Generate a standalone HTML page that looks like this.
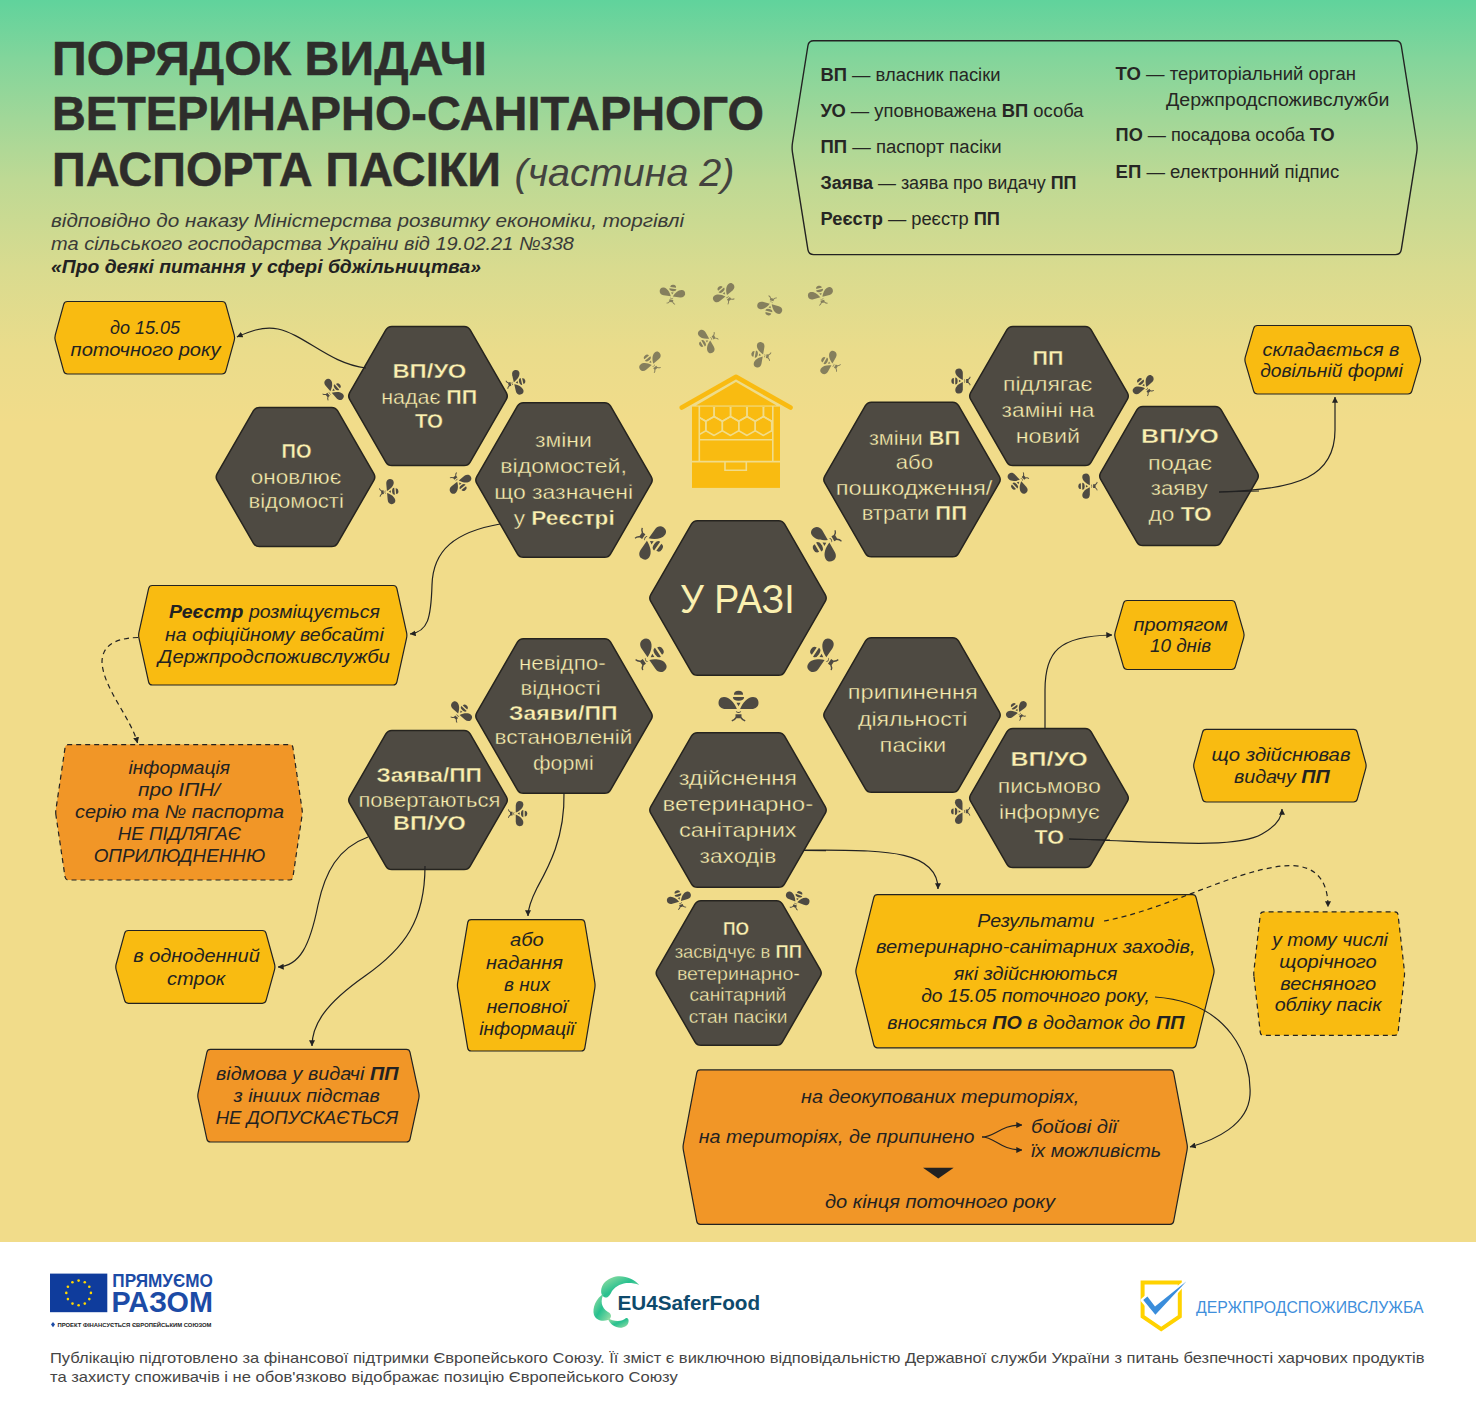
<!DOCTYPE html><html><head><meta charset="utf-8"><style>html,body{margin:0;padding:0;background:#fff;}svg{display:block;}</style></head><body>
<svg width="1476" height="1413" viewBox="0 0 1476 1413">
<defs>
<linearGradient id="bg" x1="0" y1="0" x2="0" y2="1242" gradientUnits="userSpaceOnUse">
<stop offset="0" stop-color="#60d39c"/>
<stop offset="0.048" stop-color="#83d59b"/>
<stop offset="0.097" stop-color="#a2d798"/>
<stop offset="0.145" stop-color="#bed994"/>
<stop offset="0.217" stop-color="#d9db8f"/>
<stop offset="0.282" stop-color="#eadc8b"/>
<stop offset="0.34" stop-color="#f1dc8a"/>
<stop offset="1" stop-color="#f1dc8a"/>
</linearGradient>
<marker id="ar" viewBox="0 0 10 10" refX="9.5" refY="5" markerWidth="6" markerHeight="6" orient="auto-start-reverse" markerUnits="userSpaceOnUse">
<path d="M0,0 L10,5 L0,10 Z" fill="#222"/>
</marker>
<g id="bee">
<path d="M-4.6,-10.2 Q-4.6,-14.2 0,-14.2 Q4.6,-14.2 4.6,-10.2 Z"/>
<path d="M-5.6,-8 L5.6,-8 Q5.6,-4.2 0,-4.2 Q-5.6,-4.2 -5.6,-8 Z"/>
<path d="M-2,-2.2 L2,-2.2 L0,1.2 Z"/>
<path d="M-1.6,4 C-4,-2 -9,-8 -14.5,-8 C-18.5,-8 -20,-5 -20,-2 C-20,1.5 -17,4 -13,4 Z"/>
<path d="M1.6,4 C4,-2 9,-8 14.5,-8 C18.5,-8 20,-5 20,-2 C20,1.5 17,4 13,4 Z"/>
<path d="M-2.6,6 Q0,8 2.6,6 L2.2,7.2 Q0,8.6 -2.2,7.2 Z"/>
<path d="M-3,9.2 L3,9.2 L3,12 Q4.5,14.6 7,15.2 L6.4,16.4 Q3.4,15.8 2,13.2 L-2,13.2 Q-3.4,15.8 -6.4,16.4 L-7,15.2 Q-4.5,14.6 -3,12 Z"/>
</g>
</defs>
<rect x="0" y="0" width="1476" height="1242" fill="url(#bg)"/>
<rect x="0" y="1242" width="1476" height="171" fill="#ffffff"/>
<text x="52.0" y="74.5" font-family="Liberation Sans" font-size="47.5" fill="#2e2d2b" text-anchor="start" font-style="normal" font-weight="bold" textLength="435.0" lengthAdjust="spacingAndGlyphs" stroke="#2e2d2b" stroke-width="0.5">ПОРЯДОК ВИДАЧІ</text>
<text x="52.0" y="130.0" font-family="Liberation Sans" font-size="47.5" fill="#2e2d2b" text-anchor="start" font-style="normal" font-weight="bold" textLength="712.0" lengthAdjust="spacingAndGlyphs" stroke="#2e2d2b" stroke-width="0.5">ВЕТЕРИНАРНО-САНІТАРНОГО</text>
<text x="52.0" y="186.0" font-family="Liberation Sans" font-size="47.5" fill="#2e2d2b" text-anchor="start" font-style="normal" font-weight="bold" textLength="449.0" lengthAdjust="spacingAndGlyphs" stroke="#2e2d2b" stroke-width="0.5">ПАСПОРТА ПАСІКИ</text>
<text x="514.5" y="186.0" font-family="Liberation Sans" font-size="39.0" fill="#43433f" text-anchor="start" font-style="italic" font-weight="normal" textLength="220.0" lengthAdjust="spacingAndGlyphs">(частина 2)</text>
<text x="51.0" y="226.5" font-family="Liberation Sans" font-size="19.0" fill="#3a3a38" text-anchor="start" font-style="italic" font-weight="normal" textLength="633.0" lengthAdjust="spacingAndGlyphs">відповідно до наказу Міністерства розвитку економіки, торгівлі</text>
<text x="51.0" y="249.5" font-family="Liberation Sans" font-size="19.0" fill="#3a3a38" text-anchor="start" font-style="italic" font-weight="normal" textLength="523.0" lengthAdjust="spacingAndGlyphs">та сільського господарства України від 19.02.21 №338</text>
<text x="51.0" y="272.5" font-family="Liberation Sans" font-size="19.0" fill="#222" text-anchor="start" font-style="italic" font-weight="bold" textLength="430.0" lengthAdjust="spacingAndGlyphs">«Про деякі питання у сфері бджільництва»</text>
<path d="M792.49,152.64 Q791.70,147.70 792.49,142.76 L807.91,45.74 Q808.70,40.80 813.70,40.80 L1395.50,40.80 Q1400.50,40.80 1401.29,45.74 L1416.71,142.76 Q1417.50,147.70 1416.71,152.64 L1401.29,249.66 Q1400.50,254.60 1395.50,254.60 L813.70,254.60 Q808.70,254.60 807.91,249.66 Z" fill="none" stroke="#222222" stroke-width="1.4"/>
<text x="820.5" y="81.0" font-family="Liberation Sans" font-size="18.0" fill="#262624" text-anchor="start" font-style="normal" font-weight="normal" textLength="180.0" lengthAdjust="spacingAndGlyphs"><tspan font-weight="bold">ВП</tspan> — власник пасіки</text>
<text x="820.5" y="116.7" font-family="Liberation Sans" font-size="18.0" fill="#262624" text-anchor="start" font-style="normal" font-weight="normal" textLength="263.0" lengthAdjust="spacingAndGlyphs"><tspan font-weight="bold">УО</tspan> — уповноважена <tspan font-weight="bold">ВП</tspan> особа</text>
<text x="820.5" y="153.0" font-family="Liberation Sans" font-size="18.0" fill="#262624" text-anchor="start" font-style="normal" font-weight="normal" textLength="181.0" lengthAdjust="spacingAndGlyphs"><tspan font-weight="bold">ПП</tspan> — паспорт пасіки</text>
<text x="820.5" y="189.4" font-family="Liberation Sans" font-size="18.0" fill="#262624" text-anchor="start" font-style="normal" font-weight="normal" textLength="256.0" lengthAdjust="spacingAndGlyphs"><tspan font-weight="bold">Заява</tspan> — заява про видачу <tspan font-weight="bold">ПП</tspan></text>
<text x="820.5" y="225.1" font-family="Liberation Sans" font-size="18.0" fill="#262624" text-anchor="start" font-style="normal" font-weight="normal" textLength="179.5" lengthAdjust="spacingAndGlyphs"><tspan font-weight="bold">Реєстр</tspan> — реєстр <tspan font-weight="bold">ПП</tspan></text>
<text x="1115.6" y="80.3" font-family="Liberation Sans" font-size="18.0" fill="#262624" text-anchor="start" font-style="normal" font-weight="normal" textLength="240.4" lengthAdjust="spacingAndGlyphs"><tspan font-weight="bold">ТО</tspan> — територіальний орган</text>
<text x="1166.0" y="106.0" font-family="Liberation Sans" font-size="18.0" fill="#262624" text-anchor="start" font-style="normal" font-weight="normal" textLength="223.5" lengthAdjust="spacingAndGlyphs">Держпродспоживслужби</text>
<text x="1115.6" y="141.3" font-family="Liberation Sans" font-size="18.0" fill="#262624" text-anchor="start" font-style="normal" font-weight="normal" textLength="219.0" lengthAdjust="spacingAndGlyphs"><tspan font-weight="bold">ПО</tspan> — посадова особа <tspan font-weight="bold">ТО</tspan></text>
<text x="1115.6" y="177.5" font-family="Liberation Sans" font-size="18.0" fill="#262624" text-anchor="start" font-style="normal" font-weight="normal" textLength="223.6" lengthAdjust="spacingAndGlyphs"><tspan font-weight="bold">ЕП</tspan> — електронний підпис</text>
<path d="M349.70,399.46 Q347.70,396.00 349.70,392.54 L385.85,329.92 Q387.85,326.46 391.85,326.46 L464.15,326.46 Q468.15,326.46 470.15,329.92 L506.30,392.54 Q508.30,396.00 506.30,399.46 L470.15,462.08 Q468.15,465.54 464.15,465.54 L391.85,465.54 Q387.85,465.54 385.85,462.08 Z" fill="#4e4a42" stroke="#26241f" stroke-width="1.5"/>
<path d="M217.20,480.46 Q215.20,477.00 217.20,473.54 L253.35,410.92 Q255.35,407.46 259.35,407.46 L331.65,407.46 Q335.65,407.46 337.65,410.92 L373.80,473.54 Q375.80,477.00 373.80,480.46 L337.65,543.08 Q335.65,546.54 331.65,546.54 L259.35,546.54 Q255.35,546.54 253.35,543.08 Z" fill="#4e4a42" stroke="#26241f" stroke-width="1.5"/>
<path d="M476.80,483.46 Q474.80,480.00 476.80,476.54 L517.40,406.21 Q519.40,402.75 523.40,402.75 L604.60,402.75 Q608.60,402.75 610.60,406.21 L651.20,476.54 Q653.20,480.00 651.20,483.46 L610.60,553.79 Q608.60,557.25 604.60,557.25 L523.40,557.25 Q519.40,557.25 517.40,553.79 Z" fill="#4e4a42" stroke="#26241f" stroke-width="1.5"/>
<path d="M970.70,399.46 Q968.70,396.00 970.70,392.54 L1006.85,329.92 Q1008.85,326.46 1012.85,326.46 L1085.15,326.46 Q1089.15,326.46 1091.15,329.92 L1127.30,392.54 Q1129.30,396.00 1127.30,399.46 L1091.15,462.08 Q1089.15,465.54 1085.15,465.54 L1012.85,465.54 Q1008.85,465.54 1006.85,462.08 Z" fill="#4e4a42" stroke="#26241f" stroke-width="1.5"/>
<path d="M824.80,482.96 Q822.80,479.50 824.80,476.04 L865.40,405.71 Q867.40,402.25 871.40,402.25 L952.60,402.25 Q956.60,402.25 958.60,405.71 L999.20,476.04 Q1001.20,479.50 999.20,482.96 L958.60,553.29 Q956.60,556.75 952.60,556.75 L871.40,556.75 Q867.40,556.75 865.40,553.29 Z" fill="#4e4a42" stroke="#26241f" stroke-width="1.5"/>
<path d="M1100.70,479.46 Q1098.70,476.00 1100.70,472.54 L1136.85,409.92 Q1138.85,406.46 1142.85,406.46 L1215.15,406.46 Q1219.15,406.46 1221.15,409.92 L1257.30,472.54 Q1259.30,476.00 1257.30,479.46 L1221.15,542.08 Q1219.15,545.54 1215.15,545.54 L1142.85,545.54 Q1138.85,545.54 1136.85,542.08 Z" fill="#4e4a42" stroke="#26241f" stroke-width="1.5"/>
<path d="M650.80,601.46 Q648.80,598.00 650.80,594.54 L691.40,524.21 Q693.40,520.75 697.40,520.75 L778.60,520.75 Q782.60,520.75 784.60,524.21 L825.20,594.54 Q827.20,598.00 825.20,601.46 L784.60,671.79 Q782.60,675.25 778.60,675.25 L697.40,675.25 Q693.40,675.25 691.40,671.79 Z" fill="#4e4a42" stroke="#26241f" stroke-width="1.5"/>
<path d="M476.80,719.46 Q474.80,716.00 476.80,712.54 L517.40,642.21 Q519.40,638.75 523.40,638.75 L604.60,638.75 Q608.60,638.75 610.60,642.21 L651.20,712.54 Q653.20,716.00 651.20,719.46 L610.60,789.79 Q608.60,793.25 604.60,793.25 L523.40,793.25 Q519.40,793.25 517.40,789.79 Z" fill="#4e4a42" stroke="#26241f" stroke-width="1.5"/>
<path d="M349.70,803.46 Q347.70,800.00 349.70,796.54 L385.85,733.92 Q387.85,730.46 391.85,730.46 L464.15,730.46 Q468.15,730.46 470.15,733.92 L506.30,796.54 Q508.30,800.00 506.30,803.46 L470.15,866.08 Q468.15,869.54 464.15,869.54 L391.85,869.54 Q387.85,869.54 385.85,866.08 Z" fill="#4e4a42" stroke="#26241f" stroke-width="1.5"/>
<path d="M650.80,813.46 Q648.80,810.00 650.80,806.54 L691.40,736.21 Q693.40,732.75 697.40,732.75 L778.60,732.75 Q782.60,732.75 784.60,736.21 L825.20,806.54 Q827.20,810.00 825.20,813.46 L784.60,883.79 Q782.60,887.25 778.60,887.25 L697.40,887.25 Q693.40,887.25 691.40,883.79 Z" fill="#4e4a42" stroke="#26241f" stroke-width="1.5"/>
<path d="M657.20,976.46 Q655.20,973.00 657.20,969.54 L694.95,904.15 Q696.95,900.69 700.95,900.69 L776.45,900.69 Q780.45,900.69 782.45,904.15 L820.20,969.54 Q822.20,973.00 820.20,976.46 L782.45,1041.85 Q780.45,1045.31 776.45,1045.31 L700.95,1045.31 Q696.95,1045.31 694.95,1041.85 Z" fill="#4e4a42" stroke="#26241f" stroke-width="1.5"/>
<path d="M824.80,718.46 Q822.80,715.00 824.80,711.54 L865.40,641.21 Q867.40,637.75 871.40,637.75 L952.60,637.75 Q956.60,637.75 958.60,641.21 L999.20,711.54 Q1001.20,715.00 999.20,718.46 L958.60,788.79 Q956.60,792.25 952.60,792.25 L871.40,792.25 Q867.40,792.25 865.40,788.79 Z" fill="#4e4a42" stroke="#26241f" stroke-width="1.5"/>
<path d="M970.70,801.46 Q968.70,798.00 970.70,794.54 L1006.85,731.92 Q1008.85,728.46 1012.85,728.46 L1085.15,728.46 Q1089.15,728.46 1091.15,731.92 L1127.30,794.54 Q1129.30,798.00 1127.30,801.46 L1091.15,864.08 Q1089.15,867.54 1085.15,867.54 L1012.85,867.54 Q1008.85,867.54 1006.85,864.08 Z" fill="#4e4a42" stroke="#26241f" stroke-width="1.5"/>
<path d="M55.30,340.64 Q54.50,337.75 55.30,334.86 L63.70,304.39 Q64.50,301.50 67.50,301.50 L222.00,301.50 Q225.00,301.50 225.80,304.39 L234.20,334.86 Q235.00,337.75 234.20,340.64 L225.80,371.11 Q225.00,374.00 222.00,374.00 L67.50,374.00 Q64.50,374.00 63.70,371.11 Z" fill="#f9bb11" stroke="#222" stroke-width="1.2"/>
<path d="M1245.34,362.63 Q1244.50,359.75 1245.34,356.87 L1253.66,328.38 Q1254.50,325.50 1257.50,325.50 L1408.00,325.50 Q1411.00,325.50 1411.84,328.38 L1420.16,356.87 Q1421.00,359.75 1420.16,362.63 L1411.84,391.12 Q1411.00,394.00 1408.00,394.00 L1257.50,394.00 Q1254.50,394.00 1253.66,391.12 Z" fill="#f9bb11" stroke="#222" stroke-width="1.2"/>
<path d="M138.95,638.18 Q138.30,635.25 138.95,632.32 L148.65,588.43 Q149.30,585.50 152.30,585.50 L393.20,585.50 Q396.20,585.50 396.85,588.43 L406.55,632.32 Q407.20,635.25 406.55,638.18 L396.85,682.07 Q396.20,685.00 393.20,685.00 L152.30,685.00 Q149.30,685.00 148.65,682.07 Z" fill="#f9bb11" stroke="#222" stroke-width="1.2"/>
<path d="M55.94,815.27 Q55.50,812.30 55.94,809.33 L65.06,747.57 Q65.50,744.60 68.50,744.60 L289.50,744.60 Q292.50,744.60 292.94,747.57 L302.06,809.33 Q302.50,812.30 302.06,815.27 L292.94,877.03 Q292.50,880.00 289.50,880.00 L68.50,880.00 Q65.50,880.00 65.06,877.03 Z" fill="#f19627" stroke="#222" stroke-width="1.2" stroke-dasharray="5,4"/>
<path d="M1115.14,637.88 Q1114.30,635.00 1115.14,632.12 L1123.46,603.38 Q1124.30,600.50 1127.30,600.50 L1231.50,600.50 Q1234.50,600.50 1235.34,603.38 L1243.66,632.12 Q1244.50,635.00 1243.66,637.88 L1235.34,666.62 Q1234.50,669.50 1231.50,669.50 L1127.30,669.50 Q1124.30,669.50 1123.46,666.62 Z" fill="#f9bb11" stroke="#222" stroke-width="1.2"/>
<path d="M1194.10,768.59 Q1193.30,765.70 1194.10,762.81 L1202.50,732.29 Q1203.30,729.40 1206.30,729.40 L1353.50,729.40 Q1356.50,729.40 1357.30,732.29 L1365.70,762.81 Q1366.50,765.70 1365.70,768.59 L1357.30,799.11 Q1356.50,802.00 1353.50,802.00 L1206.30,802.00 Q1203.30,802.00 1202.50,799.11 Z" fill="#f9bb11" stroke="#222" stroke-width="1.2"/>
<path d="M116.19,969.79 Q115.40,966.90 116.19,964.01 L124.61,933.39 Q125.40,930.50 128.40,930.50 L262.30,930.50 Q265.30,930.50 266.09,933.39 L274.51,964.01 Q275.30,966.90 274.51,969.79 L266.09,1000.41 Q265.30,1003.30 262.30,1003.30 L128.40,1003.30 Q125.40,1003.30 124.61,1000.41 Z" fill="#f9bb11" stroke="#222" stroke-width="1.2"/>
<path d="M457.70,988.31 Q457.20,985.35 457.70,982.39 L467.70,922.66 Q468.20,919.70 471.20,919.70 L581.30,919.70 Q584.30,919.70 584.80,922.66 L594.80,982.39 Q595.30,985.35 594.80,988.31 L584.80,1048.04 Q584.30,1051.00 581.30,1051.00 L471.20,1051.00 Q468.20,1051.00 467.70,1048.04 Z" fill="#f9bb11" stroke="#222" stroke-width="1.2"/>
<path d="M198.13,1098.63 Q197.50,1095.70 198.13,1092.77 L206.87,1052.33 Q207.50,1049.40 210.50,1049.40 L406.40,1049.40 Q409.40,1049.40 410.03,1052.33 L418.77,1092.77 Q419.40,1095.70 418.77,1098.63 L410.03,1139.07 Q409.40,1142.00 406.40,1142.00 L210.50,1142.00 Q207.50,1142.00 206.87,1139.07 Z" fill="#f19627" stroke="#222" stroke-width="1.2"/>
<path d="M856.22,974.16 Q855.50,971.25 856.22,968.34 L873.78,897.61 Q874.50,894.70 877.50,894.70 L1192.40,894.70 Q1195.40,894.70 1196.12,897.61 L1213.68,968.34 Q1214.40,971.25 1213.68,974.16 L1196.12,1044.89 Q1195.40,1047.80 1192.40,1047.80 L877.50,1047.80 Q874.50,1047.80 873.78,1044.89 Z" fill="#f9bb11" stroke="#222" stroke-width="1.2"/>
<path d="M1253.94,976.53 Q1253.60,973.55 1253.94,970.57 L1260.26,914.78 Q1260.60,911.80 1263.60,911.80 L1394.70,911.80 Q1397.70,911.80 1398.04,914.78 L1404.36,970.57 Q1404.70,973.55 1404.36,976.53 L1398.04,1032.32 Q1397.70,1035.30 1394.70,1035.30 L1263.60,1035.30 Q1260.60,1035.30 1260.26,1032.32 Z" fill="#f9bb11" stroke="#222" stroke-width="1.2" stroke-dasharray="5,4"/>
<path d="M683.35,1150.05 Q682.80,1147.10 683.35,1144.15 L696.75,1072.85 Q697.30,1069.90 700.30,1069.90 L1170.10,1069.90 Q1173.10,1069.90 1173.65,1072.85 L1187.05,1144.15 Q1187.60,1147.10 1187.05,1150.05 L1173.65,1221.35 Q1173.10,1224.30 1170.10,1224.30 L700.30,1224.30 Q697.30,1224.30 696.75,1221.35 Z" fill="#f19627" stroke="#222" stroke-width="1.2"/>
<path d="M366,368 C330,364 305,335 278,329 C262,326 248,332 237,337" fill="none" stroke="#222" stroke-width="1.2" marker-end="url(#ar)"/>
<path d="M500,524 C455,532 433,550 432,585 C431,618 428,632 410,634" fill="none" stroke="#222" stroke-width="1.2" marker-end="url(#ar)"/>
<path d="M138,637.5 C112,638 102,648 102,662 C103,688 131,718 137.5,743" fill="none" stroke="#222" stroke-width="1.2" stroke-dasharray="5,4" marker-end="url(#ar)"/>
<path d="M1219,492 C1300,490 1335,476 1335,430 L1335,397" fill="none" stroke="#222" stroke-width="1.2" marker-end="url(#ar)"/>
<path d="M368,837 C338,848 325,872 318,905 C310,945 300,966 278,967" fill="none" stroke="#222" stroke-width="1.2" marker-end="url(#ar)"/>
<path d="M425,866 C425,920 405,948 365,976 C325,1004 312,1025 312,1046" fill="none" stroke="#222" stroke-width="1.2" marker-end="url(#ar)"/>
<path d="M564,793 C565,838 548,868 537,888 C530,902 528,910 528,916" fill="none" stroke="#222" stroke-width="1.2" marker-end="url(#ar)"/>
<path d="M804,850 C870,851 938,846 938,889" fill="none" stroke="#222" stroke-width="1.2" marker-end="url(#ar)"/>
<path d="M1045,729 L1045,690 C1045,652 1058,636 1112,635" fill="none" stroke="#222" stroke-width="1.2" marker-end="url(#ar)"/>
<path d="M1069,839 C1150,841 1235,850 1262,834 C1280,824 1282,815 1282,809" fill="none" stroke="#222" stroke-width="1.2" marker-end="url(#ar)"/>
<path d="M1104,921 C1165,910 1230,872 1282,866 C1322,862 1328,888 1328,907" fill="none" stroke="#222" stroke-width="1.2" stroke-dasharray="5,4" marker-end="url(#ar)"/>
<path d="M1155,997 C1230,1002 1252,1058 1250,1095 C1248,1125 1215,1140 1190,1147" fill="none" stroke="#222" stroke-width="1.2" marker-end="url(#ar)"/>
<path d="M1219,492 L1259,491" stroke="#222" stroke-width="1.2" fill="none"/>
<path d="M804,850.5 L826,850.7" stroke="#222" stroke-width="1.2" fill="none"/>
<path d="M1069,839 L1110,840" stroke="#222" stroke-width="1.2" fill="none"/>
<text x="429.3" y="378.3" font-family="Liberation Sans" font-size="20.5" fill="#fbf0b0" text-anchor="middle" font-style="normal" font-weight="normal" textLength="73.8" lengthAdjust="spacingAndGlyphs" stroke="#4e4a42" stroke-width="0.35"><tspan font-weight="bold">ВП/УО</tspan></text>
<text x="429.2" y="404.0" font-family="Liberation Sans" font-size="20.5" fill="#fbf0b0" text-anchor="middle" font-style="normal" font-weight="normal" textLength="96.0" lengthAdjust="spacingAndGlyphs" stroke="#4e4a42" stroke-width="0.35">надає <tspan font-weight="bold">ПП</tspan></text>
<text x="429.0" y="428.3" font-family="Liberation Sans" font-size="20.5" fill="#fbf0b0" text-anchor="middle" font-style="normal" font-weight="normal" textLength="28.0" lengthAdjust="spacingAndGlyphs" stroke="#4e4a42" stroke-width="0.35"><tspan font-weight="bold">ТО</tspan></text>
<text x="296.6" y="458.0" font-family="Liberation Sans" font-size="20.5" fill="#fbf0b0" text-anchor="middle" font-style="normal" font-weight="normal" textLength="30.0" lengthAdjust="spacingAndGlyphs" stroke="#4e4a42" stroke-width="0.35"><tspan font-weight="bold">ПО</tspan></text>
<text x="296.0" y="483.6" font-family="Liberation Sans" font-size="20.5" fill="#fbf0b0" text-anchor="middle" font-style="normal" font-weight="normal" textLength="90.5" lengthAdjust="spacingAndGlyphs" stroke="#4e4a42" stroke-width="0.35">оновлює</text>
<text x="296.1" y="508.3" font-family="Liberation Sans" font-size="20.5" fill="#fbf0b0" text-anchor="middle" font-style="normal" font-weight="normal" textLength="95.4" lengthAdjust="spacingAndGlyphs" stroke="#4e4a42" stroke-width="0.35">відомості</text>
<text x="563.4" y="446.7" font-family="Liberation Sans" font-size="20.8" fill="#fbf0b0" text-anchor="middle" font-style="normal" font-weight="normal" textLength="57.0" lengthAdjust="spacingAndGlyphs" stroke="#4e4a42" stroke-width="0.35">зміни</text>
<text x="563.6" y="472.8" font-family="Liberation Sans" font-size="20.8" fill="#fbf0b0" text-anchor="middle" font-style="normal" font-weight="normal" textLength="126.8" lengthAdjust="spacingAndGlyphs" stroke="#4e4a42" stroke-width="0.35">відомостей,</text>
<text x="563.7" y="499.2" font-family="Liberation Sans" font-size="20.8" fill="#fbf0b0" text-anchor="middle" font-style="normal" font-weight="normal" textLength="138.7" lengthAdjust="spacingAndGlyphs" stroke="#4e4a42" stroke-width="0.35">що зазначені</text>
<text x="564.2" y="524.8" font-family="Liberation Sans" font-size="20.8" fill="#fbf0b0" text-anchor="middle" font-style="normal" font-weight="normal" textLength="101.0" lengthAdjust="spacingAndGlyphs" stroke="#4e4a42" stroke-width="0.35">у <tspan font-weight="bold">Реєстрі</tspan></text>
<text x="1047.9" y="365.0" font-family="Liberation Sans" font-size="20.5" fill="#fbf0b0" text-anchor="middle" font-style="normal" font-weight="normal" textLength="30.8" lengthAdjust="spacingAndGlyphs" stroke="#4e4a42" stroke-width="0.35"><tspan font-weight="bold">ПП</tspan></text>
<text x="1047.7" y="390.9" font-family="Liberation Sans" font-size="20.5" fill="#fbf0b0" text-anchor="middle" font-style="normal" font-weight="normal" textLength="89.3" lengthAdjust="spacingAndGlyphs" stroke="#4e4a42" stroke-width="0.35">підлягає</text>
<text x="1048.0" y="417.1" font-family="Liberation Sans" font-size="20.5" fill="#fbf0b0" text-anchor="middle" font-style="normal" font-weight="normal" textLength="92.8" lengthAdjust="spacingAndGlyphs" stroke="#4e4a42" stroke-width="0.35">заміні на</text>
<text x="1047.9" y="442.7" font-family="Liberation Sans" font-size="20.5" fill="#fbf0b0" text-anchor="middle" font-style="normal" font-weight="normal" textLength="64.4" lengthAdjust="spacingAndGlyphs" stroke="#4e4a42" stroke-width="0.35">новий</text>
<text x="914.5" y="444.8" font-family="Liberation Sans" font-size="20.8" fill="#fbf0b0" text-anchor="middle" font-style="normal" font-weight="normal" textLength="91.2" lengthAdjust="spacingAndGlyphs" stroke="#4e4a42" stroke-width="0.35">зміни <tspan font-weight="bold">ВП</tspan></text>
<text x="914.3" y="469.4" font-family="Liberation Sans" font-size="20.8" fill="#fbf0b0" text-anchor="middle" font-style="normal" font-weight="normal" textLength="37.3" lengthAdjust="spacingAndGlyphs" stroke="#4e4a42" stroke-width="0.35">або</text>
<text x="914.0" y="494.9" font-family="Liberation Sans" font-size="20.8" fill="#fbf0b0" text-anchor="middle" font-style="normal" font-weight="normal" textLength="156.7" lengthAdjust="spacingAndGlyphs" stroke="#4e4a42" stroke-width="0.35">пошкодження/</text>
<text x="914.3" y="519.5" font-family="Liberation Sans" font-size="20.8" fill="#fbf0b0" text-anchor="middle" font-style="normal" font-weight="normal" textLength="105.3" lengthAdjust="spacingAndGlyphs" stroke="#4e4a42" stroke-width="0.35">втрати <tspan font-weight="bold">ПП</tspan></text>
<text x="1179.9" y="442.7" font-family="Liberation Sans" font-size="20.5" fill="#fbf0b0" text-anchor="middle" font-style="normal" font-weight="normal" textLength="77.8" lengthAdjust="spacingAndGlyphs" stroke="#4e4a42" stroke-width="0.35"><tspan font-weight="bold">ВП/УО</tspan></text>
<text x="1180.0" y="469.6" font-family="Liberation Sans" font-size="20.5" fill="#fbf0b0" text-anchor="middle" font-style="normal" font-weight="normal" textLength="64.0" lengthAdjust="spacingAndGlyphs" stroke="#4e4a42" stroke-width="0.35">подає</text>
<text x="1179.3" y="494.8" font-family="Liberation Sans" font-size="20.5" fill="#fbf0b0" text-anchor="middle" font-style="normal" font-weight="normal" textLength="57.0" lengthAdjust="spacingAndGlyphs" stroke="#4e4a42" stroke-width="0.35">заяву</text>
<text x="1180.1" y="521.1" font-family="Liberation Sans" font-size="20.5" fill="#fbf0b0" text-anchor="middle" font-style="normal" font-weight="normal" textLength="63.0" lengthAdjust="spacingAndGlyphs" stroke="#4e4a42" stroke-width="0.35">до <tspan font-weight="bold">ТО</tspan></text>
<text x="737.4" y="613.3" font-family="Liberation Sans" font-size="41.0" fill="#fbf0b0" text-anchor="middle" font-style="normal" font-weight="normal" textLength="114.7" lengthAdjust="spacingAndGlyphs">У РАЗІ</text>
<text x="562.3" y="670.3" font-family="Liberation Sans" font-size="20.8" fill="#fbf0b0" text-anchor="middle" font-style="normal" font-weight="normal" textLength="86.7" lengthAdjust="spacingAndGlyphs" stroke="#4e4a42" stroke-width="0.35">невідпо-</text>
<text x="560.5" y="694.8" font-family="Liberation Sans" font-size="20.8" fill="#fbf0b0" text-anchor="middle" font-style="normal" font-weight="normal" textLength="80.2" lengthAdjust="spacingAndGlyphs" stroke="#4e4a42" stroke-width="0.35">відності</text>
<text x="563.3" y="719.7" font-family="Liberation Sans" font-size="20.8" fill="#fbf0b0" text-anchor="middle" font-style="normal" font-weight="normal" textLength="108.4" lengthAdjust="spacingAndGlyphs" stroke="#4e4a42" stroke-width="0.35"><tspan font-weight="bold">Заяви/ПП</tspan></text>
<text x="563.4" y="744.0" font-family="Liberation Sans" font-size="20.8" fill="#fbf0b0" text-anchor="middle" font-style="normal" font-weight="normal" textLength="137.9" lengthAdjust="spacingAndGlyphs" stroke="#4e4a42" stroke-width="0.35">встановленій</text>
<text x="563.4" y="769.6" font-family="Liberation Sans" font-size="20.8" fill="#fbf0b0" text-anchor="middle" font-style="normal" font-weight="normal" textLength="60.7" lengthAdjust="spacingAndGlyphs" stroke="#4e4a42" stroke-width="0.35">формі</text>
<text x="429.2" y="781.5" font-family="Liberation Sans" font-size="20.5" fill="#fbf0b0" text-anchor="middle" font-style="normal" font-weight="normal" textLength="105.6" lengthAdjust="spacingAndGlyphs" stroke="#4e4a42" stroke-width="0.35"><tspan font-weight="bold">Заява/ПП</tspan></text>
<text x="429.4" y="806.5" font-family="Liberation Sans" font-size="20.5" fill="#fbf0b0" text-anchor="middle" font-style="normal" font-weight="normal" textLength="142.0" lengthAdjust="spacingAndGlyphs" stroke="#4e4a42" stroke-width="0.35">повертаються</text>
<text x="429.4" y="830.3" font-family="Liberation Sans" font-size="20.5" fill="#fbf0b0" text-anchor="middle" font-style="normal" font-weight="normal" textLength="72.6" lengthAdjust="spacingAndGlyphs" stroke="#4e4a42" stroke-width="0.35"><tspan font-weight="bold">ВП/УО</tspan></text>
<text x="737.8" y="784.7" font-family="Liberation Sans" font-size="20.8" fill="#fbf0b0" text-anchor="middle" font-style="normal" font-weight="normal" textLength="118.3" lengthAdjust="spacingAndGlyphs" stroke="#4e4a42" stroke-width="0.35">здійснення</text>
<text x="737.8" y="810.7" font-family="Liberation Sans" font-size="20.8" fill="#fbf0b0" text-anchor="middle" font-style="normal" font-weight="normal" textLength="150.8" lengthAdjust="spacingAndGlyphs" stroke="#4e4a42" stroke-width="0.35">ветеринарно-</text>
<text x="737.8" y="836.5" font-family="Liberation Sans" font-size="20.8" fill="#fbf0b0" text-anchor="middle" font-style="normal" font-weight="normal" textLength="117.5" lengthAdjust="spacingAndGlyphs" stroke="#4e4a42" stroke-width="0.35">санітарних</text>
<text x="737.9" y="862.6" font-family="Liberation Sans" font-size="20.8" fill="#fbf0b0" text-anchor="middle" font-style="normal" font-weight="normal" textLength="76.6" lengthAdjust="spacingAndGlyphs" stroke="#4e4a42" stroke-width="0.35">заходів</text>
<text x="736.0" y="935.3" font-family="Liberation Sans" font-size="18.0" fill="#fbf0b0" text-anchor="middle" font-style="normal" font-weight="normal" textLength="26.2" lengthAdjust="spacingAndGlyphs" stroke="#4e4a42" stroke-width="0.35"><tspan font-weight="bold">ПО</tspan></text>
<text x="738.3" y="957.9" font-family="Liberation Sans" font-size="18.0" fill="#fbf0b0" text-anchor="middle" font-style="normal" font-weight="normal" textLength="127.3" lengthAdjust="spacingAndGlyphs" stroke="#4e4a42" stroke-width="0.35">засвідчує в <tspan font-weight="bold">ПП</tspan></text>
<text x="738.4" y="979.6" font-family="Liberation Sans" font-size="18.0" fill="#fbf0b0" text-anchor="middle" font-style="normal" font-weight="normal" textLength="123.0" lengthAdjust="spacingAndGlyphs" stroke="#4e4a42" stroke-width="0.35">ветеринарно-</text>
<text x="737.9" y="1001.3" font-family="Liberation Sans" font-size="18.0" fill="#fbf0b0" text-anchor="middle" font-style="normal" font-weight="normal" textLength="96.8" lengthAdjust="spacingAndGlyphs" stroke="#4e4a42" stroke-width="0.35">санітарний</text>
<text x="738.1" y="1023.0" font-family="Liberation Sans" font-size="18.0" fill="#fbf0b0" text-anchor="middle" font-style="normal" font-weight="normal" textLength="98.6" lengthAdjust="spacingAndGlyphs" stroke="#4e4a42" stroke-width="0.35">стан пасіки</text>
<text x="912.8" y="699.0" font-family="Liberation Sans" font-size="20.8" fill="#fbf0b0" text-anchor="middle" font-style="normal" font-weight="normal" textLength="130.0" lengthAdjust="spacingAndGlyphs" stroke="#4e4a42" stroke-width="0.35">припинення</text>
<text x="912.7" y="725.6" font-family="Liberation Sans" font-size="20.8" fill="#fbf0b0" text-anchor="middle" font-style="normal" font-weight="normal" textLength="109.5" lengthAdjust="spacingAndGlyphs" stroke="#4e4a42" stroke-width="0.35">діяльності</text>
<text x="912.9" y="751.7" font-family="Liberation Sans" font-size="20.8" fill="#fbf0b0" text-anchor="middle" font-style="normal" font-weight="normal" textLength="66.6" lengthAdjust="spacingAndGlyphs" stroke="#4e4a42" stroke-width="0.35">пасіки</text>
<text x="1049.1" y="765.7" font-family="Liberation Sans" font-size="20.5" fill="#fbf0b0" text-anchor="middle" font-style="normal" font-weight="normal" textLength="77.4" lengthAdjust="spacingAndGlyphs" stroke="#4e4a42" stroke-width="0.35"><tspan font-weight="bold">ВП/УО</tspan></text>
<text x="1049.3" y="792.8" font-family="Liberation Sans" font-size="20.5" fill="#fbf0b0" text-anchor="middle" font-style="normal" font-weight="normal" textLength="103.0" lengthAdjust="spacingAndGlyphs" stroke="#4e4a42" stroke-width="0.35">письмово</text>
<text x="1049.3" y="818.9" font-family="Liberation Sans" font-size="20.5" fill="#fbf0b0" text-anchor="middle" font-style="normal" font-weight="normal" textLength="100.8" lengthAdjust="spacingAndGlyphs" stroke="#4e4a42" stroke-width="0.35">інформує</text>
<text x="1049.2" y="843.8" font-family="Liberation Sans" font-size="20.5" fill="#fbf0b0" text-anchor="middle" font-style="normal" font-weight="normal" textLength="29.3" lengthAdjust="spacingAndGlyphs" stroke="#4e4a42" stroke-width="0.35"><tspan font-weight="bold">ТО</tspan></text>
<text x="145.0" y="334.0" font-family="Liberation Sans" font-size="18.5" fill="#222222" text-anchor="middle" font-style="italic" font-weight="normal" textLength="70.0" lengthAdjust="spacingAndGlyphs">до 15.05</text>
<text x="145.6" y="355.6" font-family="Liberation Sans" font-size="18.5" fill="#222222" text-anchor="middle" font-style="italic" font-weight="normal" textLength="150.0" lengthAdjust="spacingAndGlyphs">поточного року</text>
<text x="1331.0" y="355.5" font-family="Liberation Sans" font-size="18.5" fill="#222222" text-anchor="middle" font-style="italic" font-weight="normal" textLength="137.0" lengthAdjust="spacingAndGlyphs">складається в</text>
<text x="1331.5" y="376.9" font-family="Liberation Sans" font-size="18.5" fill="#222222" text-anchor="middle" font-style="italic" font-weight="normal" textLength="142.7" lengthAdjust="spacingAndGlyphs">довільній формі</text>
<text x="274.4" y="618.4" font-family="Liberation Sans" font-size="18.5" fill="#222222" text-anchor="middle" font-style="italic" font-weight="normal" textLength="211.0" lengthAdjust="spacingAndGlyphs"><tspan font-weight="bold">Реєстр</tspan> розміщується</text>
<text x="274.4" y="640.6" font-family="Liberation Sans" font-size="18.5" fill="#222222" text-anchor="middle" font-style="italic" font-weight="normal" textLength="218.7" lengthAdjust="spacingAndGlyphs">на офіційному вебсайті</text>
<text x="274.0" y="663.0" font-family="Liberation Sans" font-size="18.5" fill="#222222" text-anchor="middle" font-style="italic" font-weight="normal" textLength="231.8" lengthAdjust="spacingAndGlyphs">Держпродспоживслужби</text>
<text x="179.2" y="774.0" font-family="Liberation Sans" font-size="18.5" fill="#222222" text-anchor="middle" font-style="italic" font-weight="normal" textLength="101.6" lengthAdjust="spacingAndGlyphs">інформація</text>
<text x="179.0" y="796.0" font-family="Liberation Sans" font-size="18.5" fill="#222222" text-anchor="middle" font-style="italic" font-weight="normal" textLength="82.0" lengthAdjust="spacingAndGlyphs">про ІПН/</text>
<text x="179.5" y="818.0" font-family="Liberation Sans" font-size="18.5" fill="#222222" text-anchor="middle" font-style="italic" font-weight="normal" textLength="209.0" lengthAdjust="spacingAndGlyphs">серію та № паспорта</text>
<text x="179.4" y="840.0" font-family="Liberation Sans" font-size="18.5" fill="#222222" text-anchor="middle" font-style="italic" font-weight="normal" textLength="123.3" lengthAdjust="spacingAndGlyphs">НЕ ПІДЛЯГАЄ</text>
<text x="179.5" y="862.0" font-family="Liberation Sans" font-size="18.5" fill="#222222" text-anchor="middle" font-style="italic" font-weight="normal" textLength="171.6" lengthAdjust="spacingAndGlyphs">ОПРИЛЮДНЕННЮ</text>
<text x="1180.7" y="630.7" font-family="Liberation Sans" font-size="18.5" fill="#222222" text-anchor="middle" font-style="italic" font-weight="normal" textLength="94.3" lengthAdjust="spacingAndGlyphs">протягом</text>
<text x="1180.5" y="652.3" font-family="Liberation Sans" font-size="18.5" fill="#222222" text-anchor="middle" font-style="italic" font-weight="normal" textLength="61.2" lengthAdjust="spacingAndGlyphs">10 днів</text>
<text x="1281.0" y="761.3" font-family="Liberation Sans" font-size="18.5" fill="#222222" text-anchor="middle" font-style="italic" font-weight="normal" textLength="139.0" lengthAdjust="spacingAndGlyphs">що здійснював</text>
<text x="1281.8" y="783.4" font-family="Liberation Sans" font-size="18.5" fill="#222222" text-anchor="middle" font-style="italic" font-weight="normal" textLength="95.8" lengthAdjust="spacingAndGlyphs">видачу <tspan font-weight="bold">ПП</tspan></text>
<text x="196.5" y="962.2" font-family="Liberation Sans" font-size="18.5" fill="#222222" text-anchor="middle" font-style="italic" font-weight="normal" textLength="126.7" lengthAdjust="spacingAndGlyphs">в одноденний</text>
<text x="196.2" y="984.5" font-family="Liberation Sans" font-size="18.5" fill="#222222" text-anchor="middle" font-style="italic" font-weight="normal" textLength="58.3" lengthAdjust="spacingAndGlyphs">строк</text>
<text x="526.9" y="946.2" font-family="Liberation Sans" font-size="18.5" fill="#222222" text-anchor="middle" font-style="italic" font-weight="normal" textLength="33.8" lengthAdjust="spacingAndGlyphs">або</text>
<text x="524.5" y="968.5" font-family="Liberation Sans" font-size="18.5" fill="#222222" text-anchor="middle" font-style="italic" font-weight="normal" textLength="77.0" lengthAdjust="spacingAndGlyphs">надання</text>
<text x="527.0" y="990.6" font-family="Liberation Sans" font-size="18.5" fill="#222222" text-anchor="middle" font-style="italic" font-weight="normal" textLength="45.8" lengthAdjust="spacingAndGlyphs">в них</text>
<text x="526.8" y="1012.7" font-family="Liberation Sans" font-size="18.5" fill="#222222" text-anchor="middle" font-style="italic" font-weight="normal" textLength="80.7" lengthAdjust="spacingAndGlyphs">неповної</text>
<text x="526.9" y="1034.8" font-family="Liberation Sans" font-size="18.5" fill="#222222" text-anchor="middle" font-style="italic" font-weight="normal" textLength="95.4" lengthAdjust="spacingAndGlyphs">інформації</text>
<text x="307.2" y="1080.0" font-family="Liberation Sans" font-size="18.5" fill="#222222" text-anchor="middle" font-style="italic" font-weight="normal" textLength="182.5" lengthAdjust="spacingAndGlyphs">відмова у видачі <tspan font-weight="bold">ПП</tspan></text>
<text x="306.7" y="1102.0" font-family="Liberation Sans" font-size="18.5" fill="#222222" text-anchor="middle" font-style="italic" font-weight="normal" textLength="146.3" lengthAdjust="spacingAndGlyphs">з інших підстав</text>
<text x="306.9" y="1124.0" font-family="Liberation Sans" font-size="18.5" fill="#222222" text-anchor="middle" font-style="italic" font-weight="normal" textLength="182.4" lengthAdjust="spacingAndGlyphs">НЕ ДОПУСКАЄТЬСЯ</text>
<text x="1035.8" y="926.6" font-family="Liberation Sans" font-size="18.5" fill="#222222" text-anchor="middle" font-style="italic" font-weight="normal" textLength="117.0" lengthAdjust="spacingAndGlyphs">Результати</text>
<text x="1035.8" y="953.4" font-family="Liberation Sans" font-size="18.5" fill="#222222" text-anchor="middle" font-style="italic" font-weight="normal" textLength="319.4" lengthAdjust="spacingAndGlyphs">ветеринарно-санітарних заходів,</text>
<text x="1035.5" y="980.2" font-family="Liberation Sans" font-size="18.5" fill="#222222" text-anchor="middle" font-style="italic" font-weight="normal" textLength="163.6" lengthAdjust="spacingAndGlyphs">які здійснюються</text>
<text x="1035.5" y="1002.4" font-family="Liberation Sans" font-size="18.5" fill="#222222" text-anchor="middle" font-style="italic" font-weight="normal" textLength="228.6" lengthAdjust="spacingAndGlyphs">до 15.05 поточного року,</text>
<text x="1035.8" y="1029.2" font-family="Liberation Sans" font-size="18.5" fill="#222222" text-anchor="middle" font-style="italic" font-weight="normal" textLength="297.1" lengthAdjust="spacingAndGlyphs">вносяться <tspan font-weight="bold">ПО</tspan> в додаток до <tspan font-weight="bold">ПП</tspan></text>
<text x="1330.1" y="945.6" font-family="Liberation Sans" font-size="18.5" fill="#222222" text-anchor="middle" font-style="italic" font-weight="normal" textLength="115.6" lengthAdjust="spacingAndGlyphs">у тому числі</text>
<text x="1328.0" y="967.5" font-family="Liberation Sans" font-size="18.5" fill="#222222" text-anchor="middle" font-style="italic" font-weight="normal" textLength="97.3" lengthAdjust="spacingAndGlyphs">щорічного</text>
<text x="1328.2" y="989.5" font-family="Liberation Sans" font-size="18.5" fill="#222222" text-anchor="middle" font-style="italic" font-weight="normal" textLength="95.8" lengthAdjust="spacingAndGlyphs">весняного</text>
<text x="1328.1" y="1011.4" font-family="Liberation Sans" font-size="18.5" fill="#222222" text-anchor="middle" font-style="italic" font-weight="normal" textLength="106.8" lengthAdjust="spacingAndGlyphs">обліку пасік</text>
<text x="940.2" y="1103.0" font-family="Liberation Sans" font-size="18.5" fill="#222222" text-anchor="middle" font-style="italic" font-weight="normal" textLength="278.3" lengthAdjust="spacingAndGlyphs">на деокупованих територіях,</text>
<text x="836.6" y="1142.6" font-family="Liberation Sans" font-size="18.5" fill="#222222" text-anchor="middle" font-style="italic" font-weight="normal" textLength="275.8" lengthAdjust="spacingAndGlyphs">на територіях, де припинено</text>
<text x="1031.0" y="1132.5" font-family="Liberation Sans" font-size="18.5" fill="#222222" text-anchor="start" font-style="italic" font-weight="normal" textLength="86.0" lengthAdjust="spacingAndGlyphs">бойові дії</text>
<text x="1031.0" y="1157.0" font-family="Liberation Sans" font-size="18.5" fill="#222222" text-anchor="start" font-style="italic" font-weight="normal" textLength="130.2" lengthAdjust="spacingAndGlyphs">їх можливість</text>
<text x="940.0" y="1208.0" font-family="Liberation Sans" font-size="18.5" fill="#222222" text-anchor="middle" font-style="italic" font-weight="normal" textLength="230.0" lengthAdjust="spacingAndGlyphs">до кінця поточного року</text>
<path d="M923,1167.7 L953.7,1167.7 L938.3,1178.5 Z" fill="#222"/>
<path d="M982,1137 C995,1137 1000,1125 1022,1125" fill="none" stroke="#222" stroke-width="1.1" marker-end="url(#ar)"/>
<path d="M982,1137 C995,1137 1000,1150 1022,1150" fill="none" stroke="#222" stroke-width="1.1" marker-end="url(#ar)"/>
<g>
<path d="M681.8,407.6 L736,376.8 L790.5,407.6" fill="none" stroke="#f9bb11" stroke-width="4.6" stroke-linecap="round" stroke-linejoin="round"/>
<path d="M696,405.5 L736,382 L776.5,405.5 Z" fill="#f9bb11"/>
<rect x="692" y="406.6" width="88" height="81.3" fill="#f9bb11"/>
<g fill="none" stroke="#f1dc8a" stroke-width="1.6">
<path d="M699.3,406 L699.3,461.5 M772.8,406 L772.8,461.5 M699.3,439.7 L772.8,439.7 M692,461.6 L780,461.6"/>
<path d="M725,461.6 L725,470.2 L746.3,470.2 L746.3,461.6"/>
</g>
<clipPath id="hcclip"><rect x="700.1" y="407" width="71.9" height="32"/></clipPath>
<g clip-path="url(#hcclip)" fill="none" stroke="#f1dc8a" stroke-width="1.5">
<path d="M697.65,435.50 L689.42,430.75 L689.42,421.25 L697.65,416.50 L705.87,421.25 L705.87,430.75 Z"/>
<path d="M714.10,435.50 L705.87,430.75 L705.87,421.25 L714.10,416.50 L722.33,421.25 L722.33,430.75 Z"/>
<path d="M730.55,435.50 L722.33,430.75 L722.33,421.25 L730.55,416.50 L738.78,421.25 L738.78,430.75 Z"/>
<path d="M747.01,435.50 L738.78,430.75 L738.78,421.25 L747.01,416.50 L755.24,421.25 L755.24,430.75 Z"/>
<path d="M763.46,435.50 L755.24,430.75 L755.24,421.25 L763.46,416.50 L771.69,421.25 L771.69,430.75 Z"/>
<path d="M779.92,435.50 L771.69,430.75 L771.69,421.25 L779.92,416.50 L788.15,421.25 L788.15,430.75 Z"/>
<path d="M796.37,435.50 L788.15,430.75 L788.15,421.25 L796.37,416.50 L804.60,421.25 L804.60,430.75 Z"/>
<path d="M705.87,421.25 L697.65,416.50 L697.65,407.00 L705.87,402.25 L714.10,407.00 L714.10,416.50 Z"/>
<path d="M722.33,421.25 L714.10,416.50 L714.10,407.00 L722.33,402.25 L730.55,407.00 L730.55,416.50 Z"/>
<path d="M738.78,421.25 L730.55,416.50 L730.55,407.00 L738.78,402.25 L747.01,407.00 L747.01,416.50 Z"/>
<path d="M755.24,421.25 L747.01,416.50 L747.01,407.00 L755.24,402.25 L763.46,407.00 L763.46,416.50 Z"/>
<path d="M771.69,421.25 L763.46,416.50 L763.46,407.00 L771.69,402.25 L779.92,407.00 L779.92,416.50 Z"/>
<path d="M788.15,421.25 L779.92,416.50 L779.92,407.00 L788.15,402.25 L796.37,407.00 L796.37,416.50 Z"/>
<path d="M804.60,421.25 L796.37,416.50 L796.37,407.00 L804.60,402.25 L812.83,407.00 L812.83,416.50 Z"/>
</g>
</g>
<use href="#bee" transform="translate(672.2,293.8) rotate(8.0) scale(0.640)" fill="#857f5d"/>
<use href="#bee" transform="translate(724.6,293.8) rotate(-40.0) scale(0.640)" fill="#857f5d"/>
<use href="#bee" transform="translate(770.1,306.5) rotate(-165.0) scale(0.640)" fill="#857f5d"/>
<use href="#bee" transform="translate(820.8,294.6) rotate(-15.0) scale(0.640)" fill="#857f5d"/>
<use href="#bee" transform="translate(707.5,340.8) rotate(-120.0) scale(0.640)" fill="#857f5d"/>
<use href="#bee" transform="translate(760.4,355.0) rotate(-80.0) scale(0.640)" fill="#857f5d"/>
<use href="#bee" transform="translate(650.9,362.4) rotate(-40.0) scale(0.640)" fill="#857f5d"/>
<use href="#bee" transform="translate(829.7,363.2) rotate(-61.0) scale(0.640)" fill="#857f5d"/>
<use href="#bee" transform="translate(333.0,390.4) rotate(49.0) scale(0.640)" fill="#4e4a42"/>
<use href="#bee" transform="translate(516.5,382.6) rotate(77.0) scale(0.630)" fill="#4e4a42"/>
<use href="#bee" transform="translate(389.5,491.7) rotate(85.0) scale(0.630)" fill="#4e4a42"/>
<use href="#bee" transform="translate(459.6,483.1) rotate(141.0) scale(0.640)" fill="#4e4a42"/>
<use href="#bee" transform="translate(650.9,541.7) rotate(125.0) scale(0.950)" fill="#4e4a42"/>
<use href="#bee" transform="translate(825.3,543.2) rotate(-120.0) scale(0.950)" fill="#4e4a42"/>
<use href="#bee" transform="translate(651.6,656.5) rotate(56.0) scale(0.950)" fill="#4e4a42"/>
<use href="#bee" transform="translate(822.3,656.5) rotate(-56.0) scale(0.950)" fill="#4e4a42"/>
<use href="#bee" transform="translate(738.5,705.0) rotate(0.0) scale(1.000)" fill="#4e4a42"/>
<use href="#bee" transform="translate(960.3,381.0) rotate(-90.0) scale(0.630)" fill="#4e4a42"/>
<use href="#bee" transform="translate(1144.1,385.7) rotate(-41.0) scale(0.630)" fill="#4e4a42"/>
<use href="#bee" transform="translate(1018.7,482.3) rotate(-133.0) scale(0.640)" fill="#4e4a42"/>
<use href="#bee" transform="translate(1087.3,486.2) rotate(-90.0) scale(0.630)" fill="#4e4a42"/>
<use href="#bee" transform="translate(460.6,712.3) rotate(42.0) scale(0.640)" fill="#4e4a42"/>
<use href="#bee" transform="translate(518.3,813.6) rotate(90.0) scale(0.630)" fill="#4e4a42"/>
<use href="#bee" transform="translate(1017.2,710.6) rotate(-36.0) scale(0.600)" fill="#4e4a42"/>
<use href="#bee" transform="translate(960.0,811.4) rotate(-90.0) scale(0.630)" fill="#4e4a42"/>
<use href="#bee" transform="translate(679.3,899.0) rotate(-17.0) scale(0.620)" fill="#4e4a42"/>
<use href="#bee" transform="translate(797.2,899.6) rotate(21.0) scale(0.620)" fill="#4e4a42"/>
<rect x="50" y="1273.6" width="57.3" height="38.6" fill="#0f3c9c"/>
<circle cx="90.9" cy="1292.9" r="1.3" fill="#ffd800"/>
<circle cx="89.3" cy="1299.1" r="1.3" fill="#ffd800"/>
<circle cx="84.8" cy="1303.6" r="1.3" fill="#ffd800"/>
<circle cx="78.6" cy="1305.2" r="1.3" fill="#ffd800"/>
<circle cx="72.5" cy="1303.6" r="1.3" fill="#ffd800"/>
<circle cx="67.9" cy="1299.1" r="1.3" fill="#ffd800"/>
<circle cx="66.3" cy="1292.9" r="1.3" fill="#ffd800"/>
<circle cx="67.9" cy="1286.8" r="1.3" fill="#ffd800"/>
<circle cx="72.4" cy="1282.2" r="1.3" fill="#ffd800"/>
<circle cx="78.6" cy="1280.6" r="1.3" fill="#ffd800"/>
<circle cx="84.8" cy="1282.2" r="1.3" fill="#ffd800"/>
<circle cx="89.3" cy="1286.8" r="1.3" fill="#ffd800"/>
<text x="112.3" y="1286.7" font-family="Liberation Sans" font-size="17.5" fill="#1c4ba6" text-anchor="start" font-style="normal" font-weight="bold" textLength="100.7" lengthAdjust="spacingAndGlyphs">ПРЯМУЄМО</text>
<text x="111.5" y="1311.7" font-family="Liberation Sans" font-size="29.0" fill="#1c4ba6" text-anchor="start" font-style="normal" font-weight="bold" textLength="101.5" lengthAdjust="spacingAndGlyphs">РАЗОМ</text>
<path d="M51,1324.6 L53,1322 L55,1324.6 L53,1327.2 Z" fill="#1c4ba6"/>
<text x="57.5" y="1327.2" font-family="Liberation Sans" font-size="6.0" fill="#222" text-anchor="start" font-style="normal" font-weight="bold" textLength="154.0" lengthAdjust="spacingAndGlyphs">ПРОЕКТ ФІНАНСУЄТЬСЯ ЄВРОПЕЙСЬКИМ СОЮЗОМ</text>
<defs><linearGradient id="gsw" x1="0" y1="0" x2="1" y2="1"><stop offset="0" stop-color="#a6e3a6"/><stop offset="0.5" stop-color="#27c08f"/><stop offset="1" stop-color="#9ee0a8"/></linearGradient></defs>
<path d="M639.3,1284.9 C632,1276 615,1272 605,1282 C600,1287 600,1295 604,1297 C608,1299 610,1295 612,1291 C618,1283 628,1281 639.3,1284.9 Z" fill="url(#gsw)"/>
<path d="M604,1293.5 C596,1298 592,1308 594,1315 C596,1320 602,1322 608,1320 C612,1318 612,1314 608,1312 C601,1308 600,1300 604,1293.5 Z" fill="url(#gsw)"/>
<path d="M607.5,1318 C611,1327 620,1330 626,1326 C630,1323 629,1317 626,1318 C622,1322 614,1322 607.5,1318 Z" fill="url(#gsw)"/>
<text x="617.5" y="1310.0" font-family="Liberation Sans" font-size="19.5" fill="#0e4a6c" text-anchor="start" font-style="normal" font-weight="bold" textLength="142.6" lengthAdjust="spacingAndGlyphs">EU4SaferFood</text>
<path d="M1142.6,1282.6 L1179.8,1282.6 L1179.8,1316.5 L1161.2,1329.2 L1142.6,1316.5 Z" fill="none" stroke="#ffd200" stroke-width="4"/>
<path d="M1142,1300.2 L1147.2,1295.6 L1155,1305.6 L1188,1279.5 L1155.6,1316 Z" fill="#ffffff" stroke="#ffffff" stroke-width="3" stroke-linejoin="round"/>
<path d="M1143.2,1300 L1147.4,1296.4 L1155,1306.4 L1186.5,1281.2 L1155.4,1314.8 Z" fill="#3a8ddb"/>
<text x="1196.0" y="1313.1" font-family="Liberation Sans" font-size="16.5" fill="#3f8fdb" text-anchor="start" font-style="normal" font-weight="normal" textLength="227.5" lengthAdjust="spacingAndGlyphs">ДЕРЖПРОДСПОЖИВСЛУЖБА</text>
<text x="50.0" y="1362.7" font-family="Liberation Sans" font-size="15.0" fill="#454545" text-anchor="start" font-style="normal" font-weight="normal" textLength="1374.5" lengthAdjust="spacingAndGlyphs">Публікацію підготовлено за фінансової підтримки Європейського Союзу. Її зміст є виключною відповідальністю Державної служби України з питань безпечності харчових продуктів</text>
<text x="50.0" y="1382.0" font-family="Liberation Sans" font-size="15.0" fill="#454545" text-anchor="start" font-style="normal" font-weight="normal" textLength="627.8" lengthAdjust="spacingAndGlyphs">та захисту споживачів і не обов'язково відображає позицію Європейського Союзу</text>
</svg></body></html>
